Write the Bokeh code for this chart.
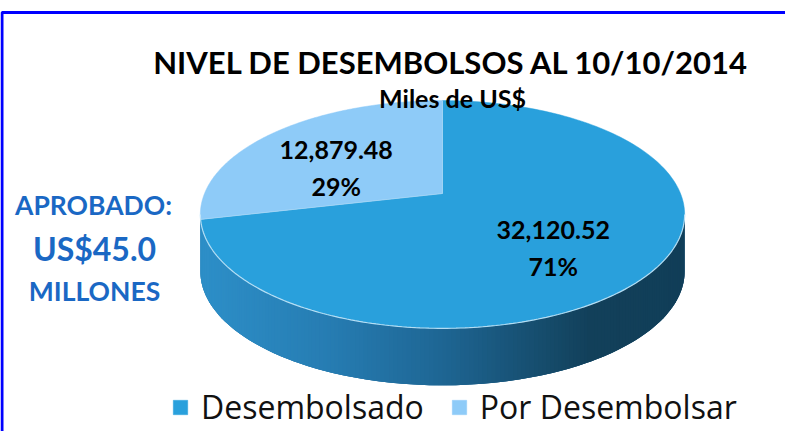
import numpy as np
from bokeh.plotting import figure
from bokeh.models import Range1d, Legend, LegendItem
from bokeh.embed import file_html
from bokeh.resources import INLINE
from bokeh.core.properties import value

# ---- data ----
categories = ["Desembolsado", "Por Desembolsar"]
amounts = [32120.52, 12879.48]
amount_labels = ["32,120.52", "12,879.48"]
pct_labels = ["71%", "29%"]
top_colors = ["#29a0dc", "#8ecbf8"]
title_text = "NIVEL DE DESEMBOLSOS AL 10/10/2014"
subtitle_text = "Miles de US$"
note_lines = ["APROBADO:", "US$45.0", "MILLONES"]

FONT = "Lato"
W, H = 785, 431
p = figure(width=W, height=H, x_range=Range1d(0, W), y_range=Range1d(H, 0),
           output_backend="svg", toolbar_location=None, min_border=0,
           x_axis_location=None, y_axis_location=None)
p.grid.visible = False
p.outline_line_color = None
p.background_fill_color = "white"

# ---- perspective pie geometry ----
CX, CY, A, B, K, DEPTH = 442.0, 193.0, 238.0, 110.0, 0.184, 57.0


def proj(t, r=1.0):
    x = r * np.cos(t)
    z = r * np.sin(t)
    d = 1 + K * z
    return CX + A * x / d, CY - B * z / d


vals = np.array(amounts, dtype=float)
frac = vals / vals.sum()
cum = np.concatenate([[0], np.cumsum(frac)])
starts = np.pi / 2 - 2 * np.pi * cum[:-1]
ends = np.pi / 2 - 2 * np.pi * cum[1:]

# side wall with gradient (overlapping strips over a base polygon)
t0 = np.pi + np.arcsin(K)
t1 = 2 * np.pi - np.arcsin(K)
N = 180
ts = np.linspace(t0, t1, N + 1)
stops_x = [200, 330, 440, 590, 690]
stops_c = np.array([[45, 143, 200], [38, 124, 178], [30, 102, 148], [18, 64, 90], [17, 62, 88]], dtype=float)

fx, fy = proj(ts)
p.patch(np.concatenate([fx, fx[::-1]]), np.concatenate([fy, (fy + DEPTH)[::-1]]),
        fill_color="#1f6a9a", line_color=None)

xs_list, ys_list, cols = [], [], []
for i in range(N):
    j = min(i + 2, N)
    xa, ya = fx[i], fy[i]
    xb, yb = fx[j], fy[j]
    xs_list.append([xa, xb, xb, xa])
    ys_list.append([ya, yb, yb + DEPTH, ya + DEPTH])
    xm = (fx[i] + fx[i + 1]) / 2
    c = [np.interp(xm, stops_x, stops_c[:, k]) for k in range(3)]
    cols.append("#%02x%02x%02x" % tuple(int(round(v)) for v in c))
p.patches(xs_list, ys_list, fill_color=cols, line_color=None)

# top face slices
slice_renderers = []
for i, cat in enumerate(categories):
    tt = np.linspace(starts[i], ends[i], 200)
    px, py = proj(tt)
    xs = np.concatenate([[CX], px, [CX]])
    ys = np.concatenate([[CY], py, [CY]])
    r = p.patch(xs, ys, fill_color=top_colors[i], line_color=top_colors[i], line_width=0.5)
    slice_renderers.append(r)

# thin highlight on the front edge and slice boundary
p.line(fx, fy, line_color="#c4e6f7", line_width=1.2, line_alpha=0.9)
for i in range(len(categories)):
    bx, by = proj(np.array([starts[i]]))
    p.line([CX, bx[0]], [CY, by[0]], line_color="#bfe2f5", line_width=0.8, line_alpha=0.6)

# data labels
mids = (starts + ends) / 2
lx, ly = proj(mids, 0.58)
lx = lx - 5
ly = ly + 12
p.text(x=lx, y=ly - 18, text=amount_labels, text_align="center", text_baseline="middle",
       text_font=value(FONT), text_font_style="bold", text_font_size="25px", text_color="black")
p.text(x=lx, y=ly + 18, text=pct_labels, text_align="center", text_baseline="middle",
       text_font=value(FONT), text_font_style="bold", text_font_size="25px", text_color="black")

# titles
p.text(x=[451], y=[61], text=[title_text], text_align="center", text_baseline="alphabetic",
       text_font=value(FONT), text_font_style="bold", text_font_size="31px", text_color="black")
p.text(x=[452], y=[97], text=[subtitle_text], text_align="center", text_baseline="alphabetic",
       text_font=value(FONT), text_font_style="bold", text_font_size="25px", text_color="black")

# approved note
p.text(x=[93], y=[204], text=[note_lines[0]], text_align="center", text_baseline="alphabetic",
       text_font=value(FONT), text_font_style="bold", text_font_size="26.5px", text_color="#1a68c4")
p.text(x=[94], y=[248], text=[note_lines[1]], text_align="center", text_baseline="alphabetic",
       text_font=value(FONT), text_font_style="bold", text_font_size="32px", text_color="#1a68c4")
p.text(x=[94], y=[290], text=[note_lines[2]], text_align="center", text_baseline="alphabetic",
       text_font=value(FONT), text_font_style="bold", text_font_size="26.5px", text_color="#1a68c4")

# border
p.line([1.5, 1.5, W + 5], [H + 5, 12, 12], line_color="#0000ff", line_width=3)

# legend
legend = Legend(items=[LegendItem(label=c, renderers=[r]) for c, r in zip(categories, slice_renderers)],
                orientation="horizontal", location=(171, 3),
                label_text_font="Open Sans", label_text_font_size="32px", label_text_color="#111111",
                glyph_width=18, glyph_height=18, label_standoff=12, spacing=26,
                padding=0, margin=0, border_line_alpha=0, background_fill_alpha=0)
p.add_layout(legend)

open("out.html", "w").write(file_html(p, INLINE))
